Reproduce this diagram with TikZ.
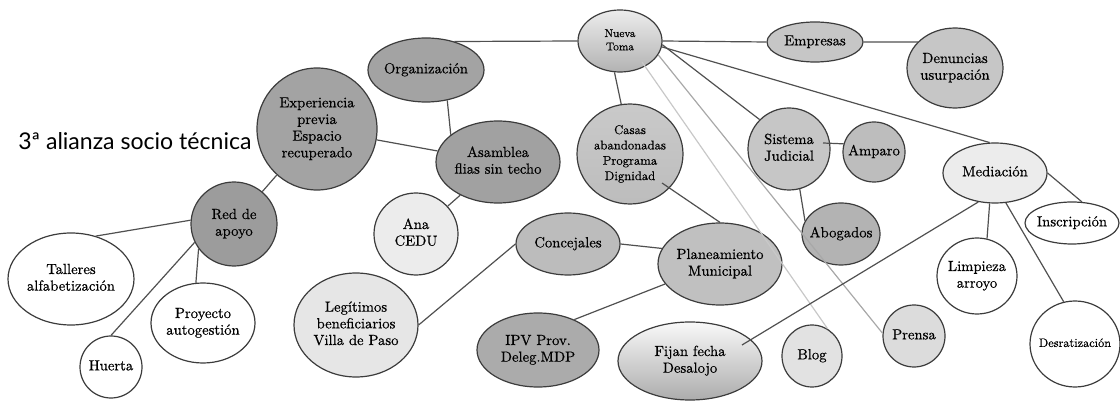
\documentclass[tikz,border=0pt]{standalone}
\usepackage{fontspec}
\newfontfamily\titlefont{Lato}
\newfontfamily\nodefont{lmroman10-regular.otf}[FakeBold=0.5]
\usetikzlibrary{shapes.geometric,calc}
\definecolor{nodeline}{HTML}{3C3C3C}
\definecolor{edgecol}{HTML}{505050}
\definecolor{lightedgeA}{HTML}{C8C8C8}
\definecolor{lightedgeB}{HTML}{A8A8A8}
\definecolor{gA}{HTML}{A3A3A3}
\definecolor{gB}{HTML}{9C9C9C}
\definecolor{gC}{HTML}{C6C6C6}
\definecolor{gD}{HTML}{BDBDBD}
\definecolor{gE}{HTML}{B3B3B3}
\definecolor{gF}{HTML}{ECECEC}
\definecolor{gG}{HTML}{DCDCDC}
\definecolor{gH}{HTML}{E2E2E2}
\definecolor{gI}{HTML}{ABABAB}
\definecolor{gJ}{HTML}{E6E6E6}
\newcommand{\ml}[1]{\makebox[0pt][c]{\begin{tabular}{@{}c@{}}#1\end{tabular}}}
\begin{document}
\begin{tikzpicture}[x=0.75pt,y=-0.75pt,
  el/.style={ellipse, draw=nodeline, line width=0.9pt, inner sep=0pt, font=\nodefont\fontsize{11}{12.5}\selectfont},
  sz/.style 2 args={minimum width=#1*0.75pt, minimum height=#2*0.75pt},
  link/.style={draw=edgecol, line width=0.9pt},
  faint/.style={draw=lightedgeA, line width=0.9pt},
  faintB/.style={draw=lightedgeB, line width=0.9pt}]
\useasboundingbox (0,0) rectangle (1120,402);

\node[anchor=base west, inner sep=0pt, font=\titlefont\fontsize{17.3}{19}\selectfont] (title) at (18,150) {3ª alianza socio técnica};

\node[el, sz={84}{62}, top color=gray!15, bottom color=gray!60, font=\nodefont\fontsize{8.5}{10}\selectfont] (nt) at (620,41) {\ml{Nueva\\Toma}};
\node[el, sz={116}{64}, fill=gA] (org) at (426,70) {\ml{Organización}};
\node[el, sz={120}{122}, fill=gA] (exp) at (317,129) {\ml{Experiencia\\previa\\Espacio\\recuperado}};
\node[el, sz={124}{82}, fill=gB!95!white] (asm) at (498,162) {\ml{Asamblea\\flias sin techo}};
\node[el, sz={106}{100}, top color=gray!42, middle color=gray!12, bottom color=gray!52, font=\nodefont\fontsize{9.5}{11.5}\selectfont] (cas) at (630,154) {\ml{Casas\\abandonadas\\Programa\\Dignidad}};
\node[el, sz={82}{82}, fill=gC] (sj) at (789,149) {\ml{Sistema\\Judicial}};
\node[el, sz={62}{60}, fill=gD] (amp) at (874,152) {\ml{Amparo}};
\node[el, sz={78}{62}, fill=gE] (abo) at (841,234) {\ml{Abogados}};
\node[el, sz={104}{60}, fill=gF] (med) at (995,173) {\ml{Mediación}};
\node[el, sz={94}{42}, fill=white] (ins) at (1072,223) {\ml{Inscripción}};
\node[el, sz={80}{76}, fill=white] (lim) at (977,276) {\ml{Limpieza\\arroyo}};
\node[el, sz={90}{86}, fill=white, font=\nodefont\fontsize{9.2}{11}\selectfont] (des) at (1075,344) {\ml{Desratización}};
\node[el, sz={62}{62}, fill=gG] (pre) at (914,336) {\ml{Prensa}};
\node[el, sz={60}{62}, fill=gH] (blg) at (812,356) {\ml{Blog}};
\node[el, sz={144}{78}, top color=gray!5, bottom color=gray!65] (fij) at (690,361) {\ml{Fijan fecha\\Desalojo}};
\node[el, sz={124}{82}, fill=gD!95!white] (pla) at (720,264) {\ml{Planeamiento\\Municipal}};
\node[el, sz={104}{62}, fill=gC!95!black] (con) at (568,244) {\ml{Concejales}};
\node[el, sz={122}{74}, fill=gI] (ipv) at (538,350) {\ml{IPV Prov.\\Deleg.MDP}};
\node[el, sz={84}{82}, fill=gF] (ana) at (416,234) {\ml{Ana\\CEDU}};
\node[el, sz={124}{104}, fill=gJ] (leg) at (356,325) {\ml{Legítimos\\beneficiarios\\Villa de Paso}};
\node[el, sz={86}{84}, fill=gB] (red) at (234,224) {\ml{Red de\\apoyo}};
\node[el, sz={126}{92}, fill=white] (tal) at (71,279) {\ml{Talleres\\alfabetización}};
\node[el, sz={104}{80}, fill=white] (pro) at (203,323) {\ml{Proyecto\\autogestión}};
\node[el, sz={62}{62}, fill=white] (hue) at (111,367) {\ml{Huerta}};
\node[el, sz={96}{40}, fill=gC] (emp) at (815,42) {\ml{Empresas}};
\node[el, sz={96}{80}, fill=gC] (den) at (955,68) {\ml{Denuncias\\usurpación}};

% connectors
\draw[link] (org.45) -- (nt.west);
\draw[link] (nt.east) -- (emp.west);
\draw[link] (emp.east) -- (den.145);
\draw[link] (org.305) -- (asm.150);
\draw[link] (exp) -- (asm);
\draw[link] (exp) -- (red);
\draw[link] (red.175) -- (tal.60);
\draw[link] (red.205) -- (hue.north);
\draw[link] (red.215) -- (pro.100);
\draw[link] (asm) -- (ana);
\draw[link] (con.west) -- (leg.east);
\draw[link] (con.east) -- (pla.165);
\draw[link] ($(cas.center)+(32,29)$) -- (pla.north);
\draw[link] (pla.200) -- (ipv.40);
\draw[link] (nt.260) -- (cas.100);
\draw[link] (nt.-5) -- (sj.135);
\draw[link] (nt.-8) -- (med.100);
\draw[faint] ($(nt.center)+(22,21)$) -- (blg.60);
\draw[faintB] (nt.-20) -- (pre.175);
\draw[link] (med.240) -- ($(fij.center)+(52,-16)$);
\draw[link] (med.260) -- (lim.75);
\draw[link] (med.290) -- (des.105);
\draw[link] (med.east) -- (ins.65);
\draw[link] ($(sj.center)+(34,-6)$) -- (amp.165);
\draw[link] (sj.285) -- (abo.160);
\end{tikzpicture}
\end{document}
